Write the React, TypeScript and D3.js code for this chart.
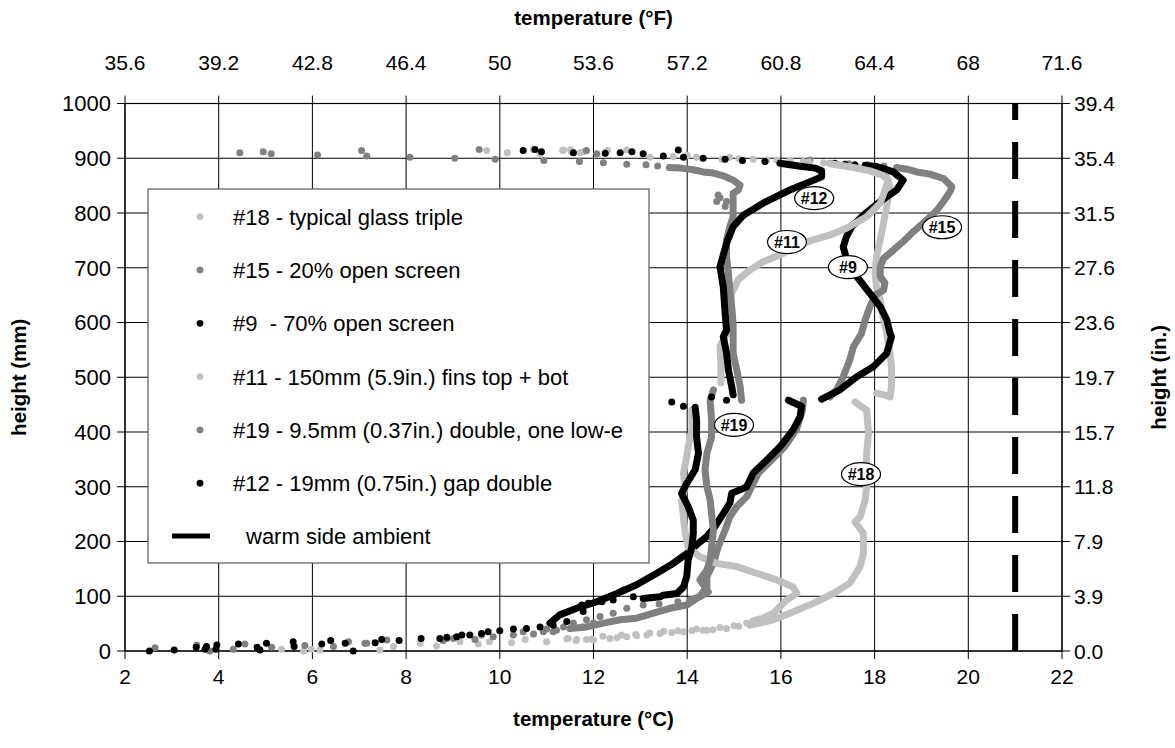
import React from 'react';
import * as d3 from 'd3';

type P = [number, number];

const LIGHT = '#c0c0c0';
const MID = '#808080';
const DARK = '#000000';

const tempTicks = [2, 4, 6, 8, 10, 12, 14, 16, 18, 20, 22];
const fahrenheitLabels = ['35.6', '39.2', '42.8', '46.4', '50', '53.6', '57.2', '60.8', '64.4', '68', '71.6'];
const heightTicks = [0, 100, 200, 300, 400, 500, 600, 700, 800, 900, 1000];
const inchLabels = ['0.0', '3.9', '7.9', '11.8', '15.7', '19.7', '23.6', '27.6', '31.5', '35.4', '39.4'];
const ambientTemp = 21;

// #18 typical glass triple (light grey)
const s18Dots: P[] = [
  [9.72, 914], [10.16, 910], [10.72, 916], [10.86, 908], [11.34, 914], [11.51, 916], [11.71, 910], [12.71, 915],
  [13.21, 902], [14.2, 902], [14.74, 898], [14.91, 902], [15.41, 898], [15.91, 897], [16.48, 894], [16.91, 892],
  [15.1, 45], [14.84, 41], [14.55, 39], [14.34, 38], [14.1, 37], [13.92, 35], [13.67, 34], [13.42, 32], [13.14, 29],
  [12.92, 28], [12.71, 26], [12.5, 24], [12.35, 23], [12.0, 20], [11.85, 21], [11.63, 19], [11.46, 23], [11.0, 17],
  [10.54, 21], [10.25, 15], [9.78, 17], [9.54, 13], [9.15, 17], [8.65, 9], [8.3, 14], [7.73, 8], [7.44, 2],
  [6.16, 2], [5.98, 3], [5.81, 0], [5.34, 3],
];
const s18Upper: P[] = [
  [17.19, 888], [17.4, 886], [17.62, 883], [17.9, 879], [18.12, 873], [18.26, 866], [18.33, 848], [18.26, 812],
  [18.19, 781], [18.12, 751], [18.04, 720], [18.01, 690], [18.04, 665], [18.12, 641], [18.19, 605], [18.26, 580],
  [18.33, 544], [18.36, 519], [18.36, 483], [18.33, 464], [18.19, 468], [18.04, 471],
];
const s18Lower: P[] = [
  [17.58, 455], [17.83, 440], [17.87, 398], [17.83, 361], [17.82, 331], [17.83, 300], [17.8, 276], [17.69, 245],
  [17.58, 236], [17.76, 215], [17.76, 178], [17.69, 154], [17.47, 124], [17.12, 105], [16.69, 87], [16.19, 69],
  [15.84, 57], [15.34, 47],
];

// #15 20% open screen (mid grey)
const s15Dots: P[] = [
  [16.62, 897], [17.05, 891], [17.45, 890], [17.85, 888], [18.2, 886],
  [11.21, 38], [10.93, 35], [10.5, 35], [10.72, 31], [10.29, 29], [9.86, 26], [9.61, 29], [9.47, 21], [9.01, 23],
  [8.87, 23], [8.79, 19], [7.59, 20], [7.16, 14], [7.12, 14], [6.77, 17], [6.45, 8], [5.84, 10], [5.13, 7],
  [4.56, 13], [4.31, 3], [3.81, 0], [3.53, 11], [2.64, 6],
];
const s15Upper: P[] = [
  [18.47, 883], [18.69, 880], [18.9, 875], [19.18, 871], [19.47, 863], [19.65, 848], [19.61, 839], [19.47, 821],
  [19.33, 805], [19.11, 787], [18.83, 766], [18.65, 751], [18.4, 732], [18.19, 717], [18.12, 702], [18.12, 684],
  [18.22, 672], [18.19, 659], [18.01, 650], [17.9, 629], [17.8, 605], [17.72, 580], [17.55, 556], [17.47, 532],
  [17.33, 501], [17.19, 477], [17.05, 464],
];
const s15Lower: P[] = [
  [16.48, 458], [16.46, 440], [16.33, 404], [16.08, 373], [15.8, 349], [15.52, 325], [15.34, 294], [15.27, 282],
  [15.06, 264], [14.91, 245], [14.81, 221], [14.66, 190], [14.56, 160], [14.42, 136], [14.42, 117], [14.27, 100],
  [13.99, 84], [13.63, 78], [13.28, 69], [12.92, 60], [12.57, 57], [12.21, 51], [11.85, 44], [11.5, 41],
];

// #9 70% open screen (black)
const s9Dots: P[] = [
  [17.15, 891], [17.37, 889], [17.58, 888],
  [10.86, 44], [10.57, 41], [10.29, 40], [10.0, 37], [9.75, 35], [9.61, 32], [9.36, 29], [9.19, 29], [9.08, 26],
  [8.87, 25], [8.72, 23], [8.32, 23], [7.85, 19], [7.48, 21], [7.34, 15], [6.87, 0], [6.7, 14], [6.39, 19],
  [6.2, 13], [5.59, 17], [5.02, 14], [4.88, 2], [4.42, 13], [3.96, 11], [3.74, 8], [3.52, 7], [3.05, 2], [2.52, 0],
];
const s9Upper: P[] = [
  [17.8, 887], [18.04, 885], [18.4, 875], [18.61, 860], [18.47, 842], [18.12, 821], [17.76, 796], [17.51, 775],
  [17.4, 757], [17.33, 738], [17.37, 726], [17.43, 703], [17.62, 684], [17.9, 653], [18.12, 629], [18.26, 605],
  [18.33, 580], [18.36, 574], [18.26, 544], [17.97, 519], [17.62, 501], [17.26, 477], [17.05, 468], [16.87, 460],
];
const s9Lower: P[] = [
  [16.16, 458], [16.44, 447], [16.41, 428], [16.26, 404], [15.98, 373], [15.7, 349], [15.41, 325], [15.27, 300],
  [15.2, 297], [14.95, 288], [14.91, 270], [14.77, 251], [14.59, 227], [14.42, 209], [14.2, 194], [13.99, 178],
  [13.7, 160], [13.35, 142], [12.92, 121], [12.5, 105], [12.07, 90], [11.64, 78], [11.28, 66], [11.07, 51],
];

// #11 150mm fins top + bot (light grey)
const s11Dots: P[] = [
  [11.36, 915], [11.53, 912], [11.78, 912], [12.3, 914], [13.7, 903], [14.0, 905], [15.1, 899], [15.7, 897],
  [16.2, 896], [16.6, 893],
  [15.27, 51], [15.0, 46], [14.7, 43], [14.42, 38], [14.2, 40], [13.8, 37], [13.5, 36], [13.2, 33], [12.9, 30],
  [12.6, 29], [12.2, 27], [11.96, 22], [11.64, 21], [11.43, 22],
];
const s11Upper: P[] = [
  [17.05, 890], [17.5, 884], [17.9, 877], [18.2, 868], [18.29, 858], [18.12, 818], [17.83, 793], [17.4, 772],
  [17.05, 760], [16.69, 751], [16.41, 742], [16.05, 726], [15.62, 711], [15.34, 696], [15.09, 678], [14.95, 653],
  [14.91, 629], [14.91, 592], [14.7, 556], [14.72, 519], [14.72, 490],
];
const s11Lower: P[] = [
  [14.1, 440], [14.1, 404], [14.02, 373], [13.99, 355], [13.92, 325], [13.96, 300], [13.88, 276], [13.92, 245],
  [13.96, 215], [14.02, 190], [14.27, 172], [14.63, 160], [15.06, 154], [15.48, 142], [15.91, 130], [16.26, 117],
  [16.34, 105], [16.12, 93], [15.98, 81], [15.84, 69], [15.62, 60], [15.4, 55],
];

// #19 9.5mm double, one low-e (mid grey)
const s19Dots: P[] = [
  [4.45, 910], [4.95, 912], [5.12, 908], [6.11, 906], [7.05, 914], [7.16, 904], [8.08, 902], [9.04, 900],
  [9.56, 916], [9.9, 898], [10.94, 896], [11.7, 894], [11.85, 914], [12.07, 908], [12.21, 892], [12.71, 889],
  [13.12, 888], [13.37, 886], [14.66, 833], [14.63, 821], [14.84, 821], [14.81, 812], [14.7, 828],
  [13.8, 90], [13.4, 86], [13.06, 84], [12.71, 78], [12.42, 69], [12.14, 63], [11.85, 57], [11.57, 51],
  [11.36, 44], [11.14, 35], [11.0, 40], [11.78, 44], [12.0, 51],
];
const s19Upper: P[] = [
  [13.62, 883], [13.86, 882], [14.13, 879], [14.34, 875], [14.56, 873], [14.77, 868], [14.98, 860], [15.13, 851],
  [15.09, 842], [14.98, 836], [14.98, 805], [14.98, 793], [14.91, 775], [14.84, 751], [14.84, 720], [14.88, 690],
  [14.91, 659], [14.95, 629], [14.98, 598], [14.98, 544], [15.06, 513], [15.13, 483], [15.16, 458],
];
const s19Lower: P[] = [
  [14.56, 477], [14.49, 458], [14.52, 422], [14.52, 391], [14.42, 361], [14.38, 331], [14.42, 300], [14.49, 276],
  [14.52, 251], [14.56, 221], [14.52, 190], [14.49, 166], [14.42, 148], [14.27, 130], [14.38, 117], [14.45, 108],
  [14.27, 99], [14.06, 93],
];

// #12 19mm gap double (black)
const s12Dots: P[] = [
  [10.5, 914], [10.75, 916], [10.89, 912], [11.57, 910], [12.25, 909], [12.57, 910], [12.82, 912], [13.06, 908],
  [13.49, 904], [13.81, 915], [13.92, 902], [14.34, 900], [14.81, 898], [15.18, 896], [15.66, 894],
  [14.84, 458], [14.52, 464], [13.67, 455], [13.92, 447],
  [12.85, 99], [12.64, 111], [12.42, 93], [12.18, 90], [11.89, 87], [11.75, 84], [11.71, 81], [11.78, 72],
  [11.43, 54], [11.14, 47], [3.71, 3], [3.94, 3], [4.82, 7], [5.61, 8],
];
const s12Upper: P[] = [
  [15.98, 891], [16.37, 886], [16.73, 882], [16.87, 877], [16.87, 866], [16.19, 842], [15.62, 818], [15.2, 796],
  [14.98, 775], [14.84, 745], [14.74, 714], [14.7, 702], [14.77, 665], [14.81, 617], [14.84, 586], [14.77, 574],
  [14.84, 544], [14.88, 513], [14.95, 483], [14.98, 468],
];
const s12Lower: P[] = [
  [14.17, 445], [14.2, 422], [14.2, 391], [14.24, 361], [14.17, 331], [13.99, 306], [13.88, 288], [14.02, 264],
  [14.13, 239], [14.13, 215], [14.1, 190], [14.02, 166], [13.99, 136], [13.92, 117], [13.78, 105], [13.49, 102],
  [13.42, 99], [13.06, 96],
];

const legendLabels = [
  '#18 - typical glass triple',
  '#15 - 20% open screen',
  '#9  - 70% open screen',
  '#11 - 150mm (5.9in.) fins top + bot',
  '#19 - 9.5mm (0.37in.) double, one low-e',
  '#12 - 19mm (0.75in.) gap double',
];

// drawing order follows the legend (later series on top)
const series = [
  { name: '#18', color: LIGHT, dots: s18Dots, traces: [s18Upper, s18Lower] },
  { name: '#15', color: MID, dots: s15Dots, traces: [s15Upper, s15Lower] },
  { name: '#9', color: DARK, dots: s9Dots, traces: [s9Upper, s9Lower] },
  { name: '#11', color: LIGHT, dots: s11Dots, traces: [s11Upper, s11Lower] },
  { name: '#19', color: MID, dots: s19Dots, traces: [s19Upper, s19Lower] },
  { name: '#12', color: DARK, dots: s12Dots, traces: [s12Upper, s12Lower] },
];

const calloutNames = ['#12', '#11', '#15', '#9', '#19', '#18'];
const calloutTemps = [16.71, 16.13, 19.44, 17.43, 15.0, 17.71];
const calloutHeights = [827, 747, 774, 701, 413, 323];

const W = 1175;
const H = 748;
const FONT = '"Liberation Sans", Arial, Helvetica, sans-serif';

export default function App() {
  const x = d3.scaleLinear().domain([2, 22]).range([125, 1062]);
  const y = d3.scaleLinear().domain([0, 1000]).range([651, 103.5]);
  const line = d3
    .line<P>()
    .x((d) => x(d[0]))
    .y((d) => y(d[1]));

  const [x0, x1] = x.range();
  const [y0, y1] = y.range();
  const legendColors = series.map((s) => s.color);

  return (
    <svg
      width={W}
      height={H}
      style={{ position: 'absolute', left: 0, top: 0, background: '#fff', fontFamily: FONT }}
    >
      <rect x={0} y={0} width={W} height={H} fill="#fff" />

      {/* grid */}
      {tempTicks.map((t) => (
        <line key={'gx' + t} x1={x(t)} x2={x(t)} y1={y1 - 8} y2={y0 + 8} stroke="#000" strokeWidth={1} />
      ))}
      {heightTicks.map((h) => (
        <line key={'gy' + h} x1={x0 - 8} x2={x1 + 8} y1={y(h)} y2={y(h)} stroke="#000" strokeWidth={1} />
      ))}
      <rect x={x0} y={y1} width={x1 - x0} height={y0 - y1} fill="none" stroke="#000" strokeWidth={1.2} />

      {/* tick labels */}
      {tempTicks.map((t) => (
        <text key={'bx' + t} x={x(t)} y={y0 + 33} textAnchor="middle" fontSize={21}>
          {t}
        </text>
      ))}
      {tempTicks.map((t, i) => (
        <text key={'tx' + t} x={x(t)} y={y1 - 34} textAnchor="middle" fontSize={21}>
          {fahrenheitLabels[i]}
        </text>
      ))}
      {heightTicks.map((h) => (
        <text key={'ly' + h} x={x0 - 14} y={y(h)} dy="0.36em" textAnchor="end" fontSize={22}>
          {h}
        </text>
      ))}
      {heightTicks.map((h, i) => (
        <text key={'ry' + h} x={x1 + 12} y={y(h)} dy="0.36em" textAnchor="start" fontSize={21}>
          {inchLabels[i]}
        </text>
      ))}

      {/* axis titles */}
      <text x={(x0 + x1) / 2} y={25} textAnchor="middle" fontSize={20.5} fontWeight="bold">
        temperature (°F)
      </text>
      <text x={(x0 + x1) / 2} y={726} textAnchor="middle" fontSize={20.5} fontWeight="bold">
        temperature (°C)
      </text>
      <text
        transform={`translate(26,${(y0 + y1) / 2}) rotate(-90)`}
        textAnchor="middle"
        fontSize={20.5}
        fontWeight="bold"
      >
        height (mm)
      </text>
      <text
        transform={`translate(1166,${(y0 + y1) / 2}) rotate(-90)`}
        textAnchor="middle"
        fontSize={20.5}
        fontWeight="bold"
      >
        height (in.)
      </text>

      {/* warm side ambient */}
      <line
        x1={x(ambientTemp)}
        x2={x(ambientTemp)}
        y1={y(0)}
        y2={y(1000)}
        stroke="#000"
        strokeWidth={6}
        strokeDasharray="37,22"
      />

      {/* series */}
      {series.map((s) => (
        <g key={s.name}>
          {s.traces.map((tr, i) => (
            <path
              key={i}
              d={line(tr) || ''}
              fill="none"
              stroke={s.color}
              strokeWidth={7}
              strokeLinejoin="round"
              strokeLinecap="round"
            />
          ))}
          {s.dots.map((d, i) => (
            <circle key={i} cx={x(d[0])} cy={y(d[1])} r={3.5} fill={s.color} />
          ))}
        </g>
      ))}

      {/* callouts */}
      {calloutNames.map((n, i) => (
        <g key={n} transform={`translate(${x(calloutTemps[i])},${y(calloutHeights[i])})`}>
          <ellipse rx={19.5} ry={11.5} fill="#fff" stroke="#000" strokeWidth={1.2} />
          <text y={0} dy="0.36em" textAnchor="middle" fontSize={16} fontWeight="bold">
            {n}
          </text>
        </g>
      ))}

      {/* legend */}
      <g>
        <rect x={148} y={189} width={501} height={374} fill="#fff" stroke="#666" strokeWidth={1.3} />
        {legendLabels.map((l, i) => (
          <g key={l} transform={`translate(0,${216.7 + i * 53.3})`}>
            <circle cx={200} cy={0} r={3.4} fill={legendColors[i]} />
            <text x={233} y={0} dy="0.36em" fontSize={22} style={{ whiteSpace: 'pre' }}>
              {l}
            </text>
          </g>
        ))}
        <line x1={172} x2={210} y1={536} y2={536} stroke="#000" strokeWidth={5} />
        <text x={246} y={536} dy="0.36em" fontSize={22}>
          warm side ambient
        </text>
      </g>
    </svg>
  );
}
